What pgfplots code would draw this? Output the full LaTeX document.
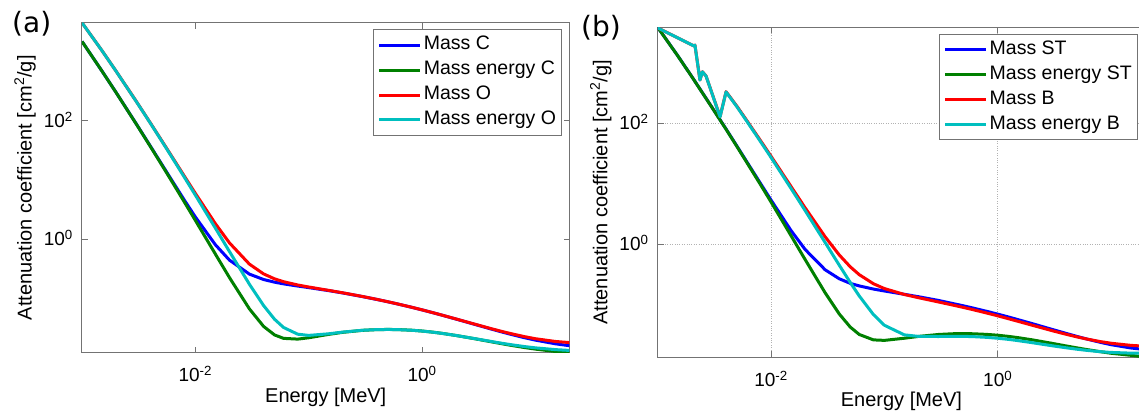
\documentclass[border=0pt]{standalone}
\usepackage{pgfplots}
\pgfplotsset{compat=1.18}
\usepackage{fontspec}
\setmainfont{Liberation Sans}
\newfontfamily\dejavu{DejaVu Sans}
\definecolor{mblue}{RGB}{0,0,255}
\definecolor{mgreen}{RGB}{0,128,0}
\definecolor{mred}{RGB}{255,0,0}
\definecolor{mcyan}{RGB}{0,191,191}
\pgfplotsset{legend image code/.code={\draw[#1, line width=3pt] (0pt,0pt) -- (41pt,0pt);}}
\begin{document}
\begin{tikzpicture}
\path[use as bounding box] (0,0) rectangle (1139pt,414pt);
\node[font=\dejavu\fontsize{28}{30}\selectfont] at (31.7pt,390pt) {(a)};
\node[font=\dejavu\fontsize{28}{30}\selectfont] at (601pt,386.5pt) {(b)};
\begin{loglogaxis}[at={(82pt,61.3pt)}, anchor=south west, ymin=0.012, ymax=4590,
  scale only axis, width=487.5pt, height=330pt,
  xmin=1e-3, xmax=20,
  xtick={0.01,1}, xticklabels={10\textsuperscript{-2},10\textsuperscript{0}},
  ytick={1,100}, yticklabels={10\textsuperscript{0},10\textsuperscript{2}},
  minor xtick={}, minor ytick={},
  axis line style={black!55, line width=1pt},
  tick style={black!55, line width=1pt}, major tick length=6pt,
  tick label style={font=\fontsize{19}{21}\selectfont, inner sep=0pt},
  xticklabel style={anchor=base, yshift=-29pt},
  yticklabel style={anchor=base east, xshift=-9pt, yshift=-6.5pt},
  label style={font=\fontsize{20}{24}\selectfont},
  xlabel={Energy [MeV]},
  xlabel style={at={(axis description cs:0.5,-0.15)}, anchor=base},
  ylabel={Attenuation coefficient [cm\textsuperscript{2}/g]},
  ylabel style={at={(axis description cs:-0.1169,0.5)}, anchor=center},
  legend style={at={(1,1)}, anchor=north east, xshift=-7pt, yshift=-6.6pt,
    draw=black!55, line width=1pt, font=\fontsize{19.5}{22}\selectfont,
    inner xsep=4pt, inner ysep=3pt, row sep=0pt,
    nodes={text height=14pt, text depth=4.5pt, inner ysep=3.2pt}},
  legend cell align=left]
\addplot[mblue, line width=3pt, line join=round] coordinates {(0.001,2211)(0.0015,700.2)(0.002,302.6)(0.003,90.33)(0.004,37.78)(0.005,19.12)(0.006,10.95)(0.008,4.576)(0.01,2.373)(0.015,0.8071)(0.02,0.442)(0.03,0.2562)(0.04,0.2076)(0.05,0.1871)(0.06,0.1753)(0.08,0.161)(0.1,0.1514)(0.15,0.1347)(0.2,0.1229)(0.3,0.1066)(0.4,0.09546)(0.5,0.08715)(0.6,0.08058)(0.8,0.07076)(1,0.06361)(1.25,0.0569)(1.5,0.05179)(2,0.04442)(3,0.03562)(4,0.03047)(5,0.02708)(6,0.02469)(8,0.02154)(10,0.01959)(15,0.01698)(20,0.01575)};
\addlegendentry{Mass C}
\addplot[mgreen, line width=3pt, line join=round] coordinates {(0.001,2209)(0.0015,699)(0.002,301.6)(0.003,89.63)(0.004,37.23)(0.005,18.66)(0.006,10.54)(0.008,4.242)(0.01,2.078)(0.015,0.5627)(0.02,0.2238)(0.03,0.06614)(0.04,0.03343)(0.05,0.02397)(0.06,0.02098)(0.08,0.02037)(0.1,0.02147)(0.15,0.02449)(0.2,0.02655)(0.3,0.0287)(0.4,0.0295)(0.5,0.02969)(0.6,0.02956)(0.8,0.02885)(1,0.02792)(1.25,0.02669)(1.5,0.02551)(2,0.02345)(3,0.02048)(4,0.01849)(5,0.0171)(6,0.01607)(8,0.01468)(10,0.0138)(15,0.01258)(20,0.01198)};
\addlegendentry{Mass energy C}
\addplot[mred, line width=3pt, line join=round] coordinates {(0.001,4590)(0.0015,1549)(0.002,694.9)(0.003,217.1)(0.004,93.15)(0.005,47.9)(0.006,27.7)(0.008,11.63)(0.01,5.952)(0.015,1.836)(0.02,0.8651)(0.03,0.3779)(0.04,0.2585)(0.05,0.2132)(0.06,0.1907)(0.08,0.1678)(0.1,0.1551)(0.15,0.1361)(0.2,0.1237)(0.3,0.107)(0.4,0.09566)(0.5,0.08729)(0.6,0.0807)(0.8,0.07087)(1,0.06372)(1.25,0.05697)(1.5,0.05185)(2,0.04459)(3,0.03597)(4,0.0309)(5,0.02765)(6,0.02538)(8,0.02245)(10,0.02069)(15,0.01859)(20,0.0178)};
\addlegendentry{Mass O}
\addplot[mcyan, line width=3pt, line join=round] coordinates {(0.001,4576)(0.0015,1545)(0.002,692.6)(0.003,215.6)(0.004,92.25)(0.005,47.15)(0.006,27.08)(0.008,11.16)(0.01,5.565)(0.015,1.545)(0.02,0.6179)(0.03,0.1729)(0.04,0.0753)(0.05,0.04414)(0.06,0.03207)(0.08,0.02468)(0.1,0.02355)(0.15,0.02506)(0.2,0.02679)(0.3,0.02877)(0.4,0.02948)(0.5,0.02966)(0.6,0.02953)(0.8,0.02882)(1,0.02789)(1.25,0.02666)(1.5,0.02547)(2,0.02345)(3,0.02057)(4,0.0187)(5,0.0174)(6,0.01647)(8,0.01525)(10,0.0145)(15,0.01353)(20,0.01311)};
\addlegendentry{Mass energy O}
\end{loglogaxis}
\begin{loglogaxis}[at={(657.7pt,56.7pt)}, anchor=south west, ymin=0.01355, ymax=3864,
  grid=major, major grid style={dotted, black!30, line width=0.8pt},
  scale only axis, width=487.5pt, height=330pt,
  xmin=1e-3, xmax=20,
  xtick={0.01,1}, xticklabels={10\textsuperscript{-2},10\textsuperscript{0}},
  ytick={1,100}, yticklabels={10\textsuperscript{0},10\textsuperscript{2}},
  minor xtick={}, minor ytick={},
  axis line style={black!55, line width=1pt},
  tick style={black!55, line width=1pt}, major tick length=6pt,
  tick label style={font=\fontsize{19}{21}\selectfont, inner sep=0pt},
  xticklabel style={anchor=base, yshift=-29pt},
  yticklabel style={anchor=base east, xshift=-9pt, yshift=-6.5pt},
  label style={font=\fontsize{20}{24}\selectfont},
  xlabel={Energy [MeV]},
  xlabel style={at={(axis description cs:0.5,-0.15)}, anchor=base},
  ylabel={Attenuation coefficient [cm\textsuperscript{2}/g]},
  ylabel style={at={(axis description cs:-0.1169,0.5)}, anchor=center},
  legend style={at={(1,1)}, anchor=north east, xshift=-7pt, yshift=-6.6pt,
    draw=black!55, line width=1pt, font=\fontsize{19.5}{22}\selectfont,
    inner xsep=4pt, inner ysep=3pt, row sep=0pt,
    nodes={text height=14pt, text depth=4.5pt, inner ysep=3.2pt}},
  legend cell align=left]
\addplot[mblue, line width=3pt, line join=round] coordinates {(0.001,3860)(0.0015,1315)(0.002,592)(0.003,186)(0.004,81)(0.005,42)(0.006,24.4)(0.008,10.4)(0.01,5.38)(0.015,1.69)(0.02,0.82)(0.03,0.379)(0.04,0.269)(0.05,0.226)(0.06,0.205)(0.08,0.182)(0.1,0.169)(0.15,0.149)(0.2,0.136)(0.3,0.118)(0.4,0.105)(0.5,0.096)(0.6,0.0887)(0.8,0.0779)(1,0.0701)(1.25,0.0627)(1.5,0.057)(2,0.049)(3,0.0393)(4,0.0337)(5,0.03)(6,0.0274)(8,0.024)(10,0.0219)(15,0.0193)(20,0.0182)};
\addlegendentry{Mass ST}
\addplot[mgreen, line width=3pt, line join=round] coordinates {(0.001,3850)(0.0015,1310)(0.002,589)(0.003,184.5)(0.004,80.2)(0.005,41.3)(0.006,23.8)(0.008,9.95)(0.01,5.0)(0.015,1.39)(0.02,0.558)(0.03,0.158)(0.04,0.0704)(0.05,0.0428)(0.06,0.0323)(0.08,0.0263)(0.1,0.0258)(0.15,0.028)(0.2,0.030)(0.3,0.0323)(0.4,0.0332)(0.5,0.0334)(0.6,0.0332)(0.8,0.0324)(1,0.0314)(1.25,0.03)(1.5,0.0287)(2,0.0264)(3,0.0231)(4,0.0209)(5,0.0194)(6,0.0183)(8,0.0168)(10,0.0158)(15,0.0146)(20,0.0137)};
\addlegendentry{Mass energy ST}
\addplot[mred, line width=3pt, line join=round] coordinates {(0.001,3781)(0.00209,1900)(0.00213,1968)(0.00236,520)(0.00248,713)(0.00267,605)(0.00355,128.6)(0.00401,333)(0.005,191.1)(0.006,116.7)(0.008,53.03)(0.01,28.51)(0.015,9.032)(0.02,4.001)(0.03,1.331)(0.04,0.6655)(0.05,0.4242)(0.06,0.3148)(0.08,0.2229)(0.1,0.1855)(0.15,0.148)(0.2,0.1309)(0.3,0.1113)(0.4,0.09908)(0.5,0.09022)(0.6,0.08332)(0.8,0.07308)(1,0.06566)(1.25,0.05871)(1.5,0.05346)(2,0.04607)(3,0.03745)(4,0.03257)(5,0.02946)(6,0.02734)(8,0.02467)(10,0.02314)(15,0.02132)(20,0.02068)};
\addlegendentry{Mass B}
\addplot[mcyan, line width=3pt, line join=round] coordinates {(0.001,3772)(0.00209,1895)(0.00213,1962)(0.00236,518)(0.00248,710)(0.00267,602)(0.00355,127.5)(0.00401,330)(0.005,187.5)(0.006,113.8)(0.008,51.1)(0.01,27.2)(0.015,8.39)(0.02,3.60)(0.03,1.07)(0.04,0.4507)(0.05,0.2336)(0.06,0.14)(0.08,0.06896)(0.1,0.04585)(0.15,0.03183)(0.2,0.03003)(0.3,0.0299)(0.4,0.03011)(0.5,0.03004)(0.6,0.02979)(0.8,0.02895)(1,0.02799)(1.25,0.02678)(1.5,0.02559)(2,0.02367)(3,0.02106)(4,0.01948)(5,0.01843)(6,0.0177)(8,0.01678)(10,0.01631)(15,0.01587)(20,0.01581)};
\addlegendentry{Mass energy B}
\end{loglogaxis}
\end{tikzpicture}
\end{document}
